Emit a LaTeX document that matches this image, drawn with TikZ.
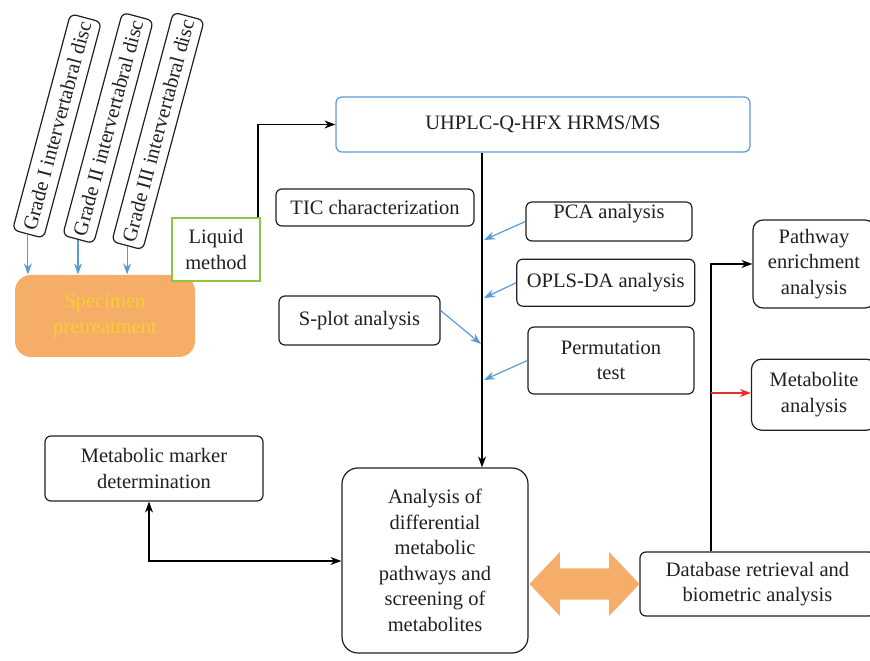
\documentclass[tikz,border=0pt]{standalone}
\usepackage{fontspec}
\setmainfont{Liberation Serif}
\usepackage{tikz}
\usetikzlibrary{positioning}
\usetikzlibrary{arrows.meta}
\usetikzlibrary{shapes.arrows}

\definecolor{flowblue}{RGB}{91,155,213}
\definecolor{floworange}{RGB}{245,173,104}
\definecolor{flowyellow}{RGB}{247,208,45}
\definecolor{flowgreen}{RGB}{141,198,63}
\definecolor{flowred}{RGB}{228,48,40}
\definecolor{flowtext}{RGB}{35,31,32}

\begin{document}
\begin{tikzpicture}[
            x = 1pt, y = 1pt, % one unit per pixel
            > = {Stealth[length = 11pt, width = 8pt]}, % arrow head style
            line width = 1.2pt, % line style
            font = \fontsize{20.5}{25.5}\selectfont,
            text = flowtext
        ]

        \tikzstyle{box}=[
            draw = flowtext,
            rounded corners = 6pt,
            fill = white,
            align = center,
            inner sep = 0pt
        ]
        \tikzstyle{grade}=[box, rotate = 75, inner xsep = 4pt, minimum height = 32pt]
        \tikzstyle{blue arrow}=[->, flowblue]

        \useasboundingbox (0,0) rectangle (870,661);

	% SAMPLES AND PRETREATMENT
        \node[grade] (G1) at (57,535) {Grade I intervertabral disc};
        \node[grade] (G2) at (108,533) {Grade II intervertabral disc};
        \node[grade] (G3) at (158,530) {Grade III intervertabral disc};

        \node[box, draw = none, fill = floworange, rounded corners = 16pt,
              minimum width = 180pt, minimum height = 82pt, text = flowyellow]
              (SPEC) at (105,345) {Specimen\\pretreatment};
        \node[box, draw = flowgreen, rounded corners = 0pt,
              minimum width = 88pt, minimum height = 63pt]
              (LIQ) at (216,411.5) {Liquid\\method};

        \draw[blue arrow] (G1.west) -- (G1.west |- SPEC.north);
        \draw[blue arrow] (G2.west) -- (G2.west |- SPEC.north);
        \draw[blue arrow] (G3.west) -- (G3.west |- SPEC.north);

	% MASS SPECTROMETRY AND MULTIVARIATE ANALYSIS
        \node[box, draw = flowblue, minimum width = 414pt, minimum height = 55pt]
              (UH) at (543,536.5) {UHPLC-Q-HFX HRMS/MS};
        \node[box, minimum width = 198pt, minimum height = 37pt]
              (TIC) at (375,453.5) {TIC characterization};
        \node[box, minimum width = 166pt, minimum height = 39pt, text depth = 20pt]
              (PCA) at (609,439.5) {PCA analysis};
        \node[box, minimum width = 178pt, minimum height = 47pt]
              (OPLS) [below left = 17pt and -170pt of PCA.south west] {OPLS-DA analysis};
        \node[box, minimum width = 161pt, minimum height = 49pt]
              (SP) at (359.5,340.5) {S-plot analysis};
        \node[box, minimum width = 166pt, minimum height = 67pt]
              (PERM) at (611,300.5) {Permutation\\test};

        \coordinate (bend) at (258,536);
        \coordinate (trunk) at (482,361);
        \coordinate (t1) at (484,421);
        \coordinate (t2) at (484,363);
        \coordinate (t3) at (481,317);
        \coordinate (t4) at (484,281);

        \draw[->] (LIQ.north -| bend) |- (UH.west);
        \draw[blue arrow] (PCA.west) -- (t1);
        \draw[blue arrow] (OPLS.west) -- (t2);
        \draw[blue arrow] ([yshift = 10pt]SP.east) -- (t3);
        \draw[blue arrow] (PERM.west) -- (t4);

	% DIFFERENTIAL METABOLITES
        \node[box, rounded corners = 16pt, minimum width = 186pt, minimum height = 185pt]
              (ANA) at (435,100.5) {Analysis of\\differential\\metabolic\\pathways and\\screening of\\metabolites};
        \node[box, minimum width = 218pt, minimum height = 65pt]
              (MARK) at (154,192.5) {Metabolic marker\\determination};
        \node[box, minimum width = 235pt, minimum height = 64pt]
              (DB) at (757.5,77) {Database retrieval and\\biometric analysis};
        \node[box, rounded corners = 10pt, minimum width = 122pt, minimum height = 88pt]
              (PATH) at (814,397) {Pathway\\enrichment\\analysis};
        \node[box, rounded corners = 10pt, minimum width = 125pt, minimum height = 71pt]
              (MET) [below = 50pt of PATH] {Metabolite\\analysis};

        \node[double arrow, fill = floworange, minimum height = 110pt,
              text height = 15pt, text depth = 15pt, inner sep = 0pt,
              double arrow head extend = 16.5pt, double arrow tip angle = 93]
              (BOTH) at (584.5,77) {};

        \coordinate (elbow) at (149,100);
        \coordinate (fork) at (711,268);

        \draw[->] (UH.south -| trunk) -- (ANA.north -| trunk);
        \draw[<->] (MARK.south -| elbow) |- (ANA.west |- elbow);
        \draw[->] (DB.north -| fork) |- (PATH.west);
       	\draw[->, flowred] (fork) -- (MET.west |- fork);

  \end{tikzpicture}
\end{document}
